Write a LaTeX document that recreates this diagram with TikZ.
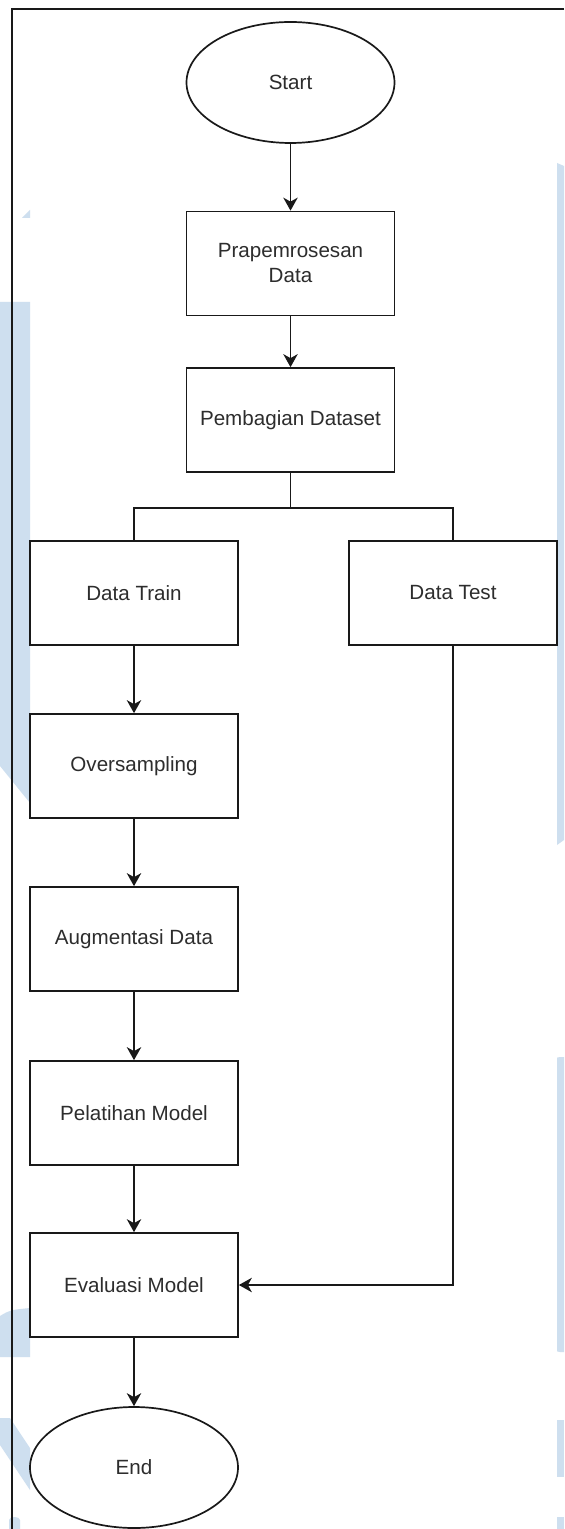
\documentclass[tikz,border=0pt]{standalone}
\usepackage{fontspec}
\setmainfont{Liberation Sans}
\usetikzlibrary{arrows.meta,shapes.geometric}
\definecolor{wm}{RGB}{206,223,239}
\definecolor{txt}{RGB}{45,45,45}
\definecolor{ln}{RGB}{25,25,25}
\begin{document}
\begin{tikzpicture}[x=0.5pt,y=-0.5pt,
  lbl/.style={font=\fontsize{10.3pt}{12.5pt}\selectfont, text=txt},
  box/.style={lbl, draw=ln, line width=0.85pt, minimum width=104pt, minimum height=52pt, inner sep=0pt, align=center},
  term/.style={lbl, ellipse, draw=ln, line width=0.85pt, minimum width=104pt, minimum height=60.5pt, inner sep=0pt},
  conn/.style={draw=ln, line width=0.85pt},
  arr/.style={conn, -{Stealth[length=6.5pt,width=7.2pt,inset=2pt]}},
  wmark/.style={fill=wm, draw=none}]
\useasboundingbox (0,0) rectangle (564,1529);
\fill[white] (0,0) rectangle (564,1529);
% faint watermark pieces
\fill[wmark] (22,218) -- (30,210) -- (30,218) -- cycle;
\fill[wmark] (0,302) -- (30,302) -- (30,803) -- (0,766) -- cycle;
\fill[wmark] (0,1316) .. controls (10,1310) .. (30,1308) -- (30,1357) -- (0,1357) -- cycle;
\fill[wmark] (0,1418) -- (10,1418) -- (30,1448) -- (30,1490) -- (0,1445) -- cycle;
\fill[wmark] (9,1529) -- (9,1520) .. controls (9,1516) and (20,1516) .. (20,1520) -- (20,1529) -- cycle;
\fill[wmark] (557,163) -- (564,166) -- (564,840) -- (557,845) -- cycle;
\fill[wmark] (560,1057) -- (564,1057) -- (564,1352) -- (560,1352) .. controls (557,1352) .. (557,1348) -- (557,1061) .. controls (557,1057) .. (560,1057) -- cycle;
\fill[wmark] (557,1420) -- (564,1420) -- (564,1477) -- (557,1477) -- cycle;
\fill[wmark] (557,1517) -- (564,1517) -- (564,1529) -- (557,1529) -- cycle;
% frame
\draw[conn] (564,9) -- (12,9) -- (12,1529);
% nodes
\node[term] (start) at (290.5,82.5) {Start};
\node[box] (prep) at (290.5,263.5) {Prapemrosesan\\Data};
\node[box] (split) at (290.5,420) {Pembagian Dataset};
\node[box] (train) at (134,593) {Data Train};
\node[box] (test) at (453,593) {Data Test};
\node[box] (over) at (134,766) {Oversampling};
\node[box] (aug) at (134,939) {Augmentasi Data};
\node[box] (pel) at (134,1113) {Pelatihan Model};
\node[box] (eval) at (134,1285) {Evaluasi Model};
\node[term] (end) at (134,1467.5) {End};
% connectors
\draw[arr] (start) -- (prep);
\draw[arr] (prep) -- (split);
\draw[conn] (split.south) -- ++(0,35) coordinate (br);
\draw[conn] (br) -| (train.north);
\draw[conn] (br) -| (test.north);
\draw[arr] (train) -- (over);
\draw[arr] (over) -- (aug);
\draw[arr] (aug) -- (pel);
\draw[arr] (pel) -- (eval);
\draw[arr] (eval) -- (end);
\draw[arr] (test.south) |- (eval.east);
\end{tikzpicture}
\end{document}
